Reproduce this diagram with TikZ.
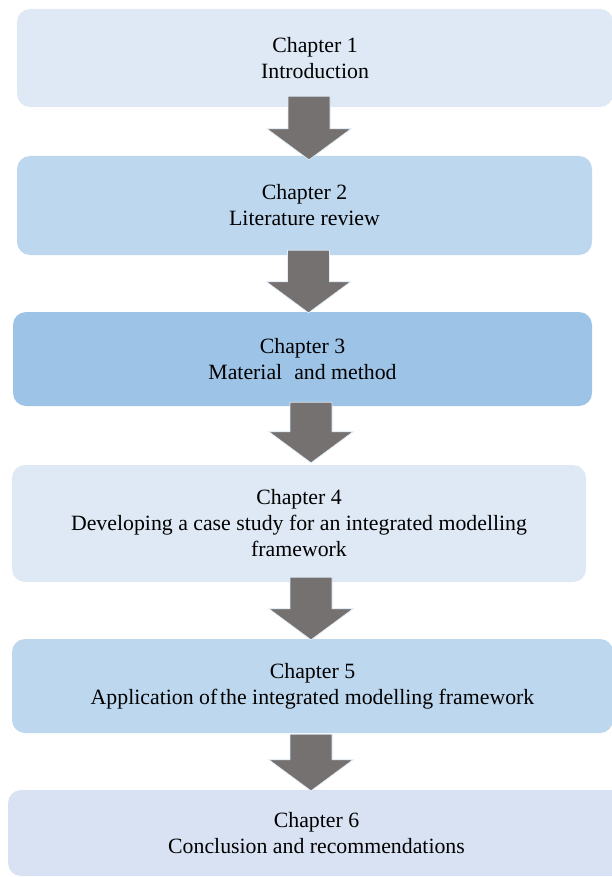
\documentclass[tikz,border=0pt]{standalone}
\usepackage{fontspec}
\setmainfont{Liberation Serif}
\usetikzlibrary{calc}

\definecolor{paleblue}{HTML}{DEE9F5}
\definecolor{midblue}{HTML}{BDD7EE}
\definecolor{deepblue}{HTML}{9DC3E6}
\definecolor{lavblue}{HTML}{D9E2F3}
\definecolor{arrowgray}{HTML}{767171}

% Block arrow from the bottom of node #1 to the top of node #2,
% centred at x=#3; #4 = overlap into the upper box, #5 = overlap into the lower box
\newcommand\flowarrow[5]{%
  \path[flowarrowstyle] let \p1=(#1.south), \p2=(#2.north),
      \n1={\y1+#4pt}, \n2={\y2-#5pt}, \n3={\n2+31pt} in
    ({#3pt-21pt},\n1) -- ({#3pt+21pt},\n1) -- ({#3pt+21pt},\n3)
    -- ({#3pt+42pt},\n3) -- (#3pt,\n2) -- ({#3pt-42pt},\n3)
    -- ({#3pt-21pt},\n3) -- cycle;}

\begin{document}
\begin{tikzpicture}[x=1pt,y=-1pt,
  chapterbox/.style={rectangle, rounded corners=13pt, draw=none,
    inner sep=0pt, align=center, text=black,
    font=\fontsize{21.8}{26}\selectfont},
  flowarrowstyle/.style={fill=arrowgray, draw=white!55!midblue, line width=0.7pt}]
\useasboundingbox (0,0) rectangle (612,877);
\clip (0,0) rectangle (612,877);

\node[chapterbox, fill=paleblue, minimum width=596pt, minimum height=98pt]
  (b1) at (315,58) {Chapter 1\\Introduction};
\node[chapterbox, fill=midblue, minimum width=575pt, minimum height=99pt]
  (b2) at (304.5,205.5) {Chapter 2\\Literature review};
\node[chapterbox, fill=deepblue, minimum width=579pt, minimum height=94pt]
  (b3) at (302.5,359) {Chapter 3\\Material\hspace{0.3em} and method};
\node[chapterbox, fill=paleblue, minimum width=574pt, minimum height=117pt]
  (b4) at (299,523.5) {Chapter 4\\Developing a case study for an integrated modelling\\framework};
\node[chapterbox, fill=midblue, minimum width=601pt, minimum height=94pt]
  (b5) at (312.5,686) {Chapter 5\\Application of\hspace{-0.12em} the integrated modelling framework};
\node[chapterbox, fill=lavblue, minimum width=617pt, minimum height=86pt]
  (b6) at (316.5,833) {Chapter 6\\Conclusion and recommendations};

\flowarrow{b1}{b2}{309}{11}{4}
\flowarrow{b2}{b3}{308.5}{5}{1}
\flowarrow{b3}{b4}{311}{4}{-2}
\flowarrow{b4}{b5}{311}{5}{1}
\flowarrow{b5}{b6}{311}{-1}{1}
\end{tikzpicture}
\end{document}
